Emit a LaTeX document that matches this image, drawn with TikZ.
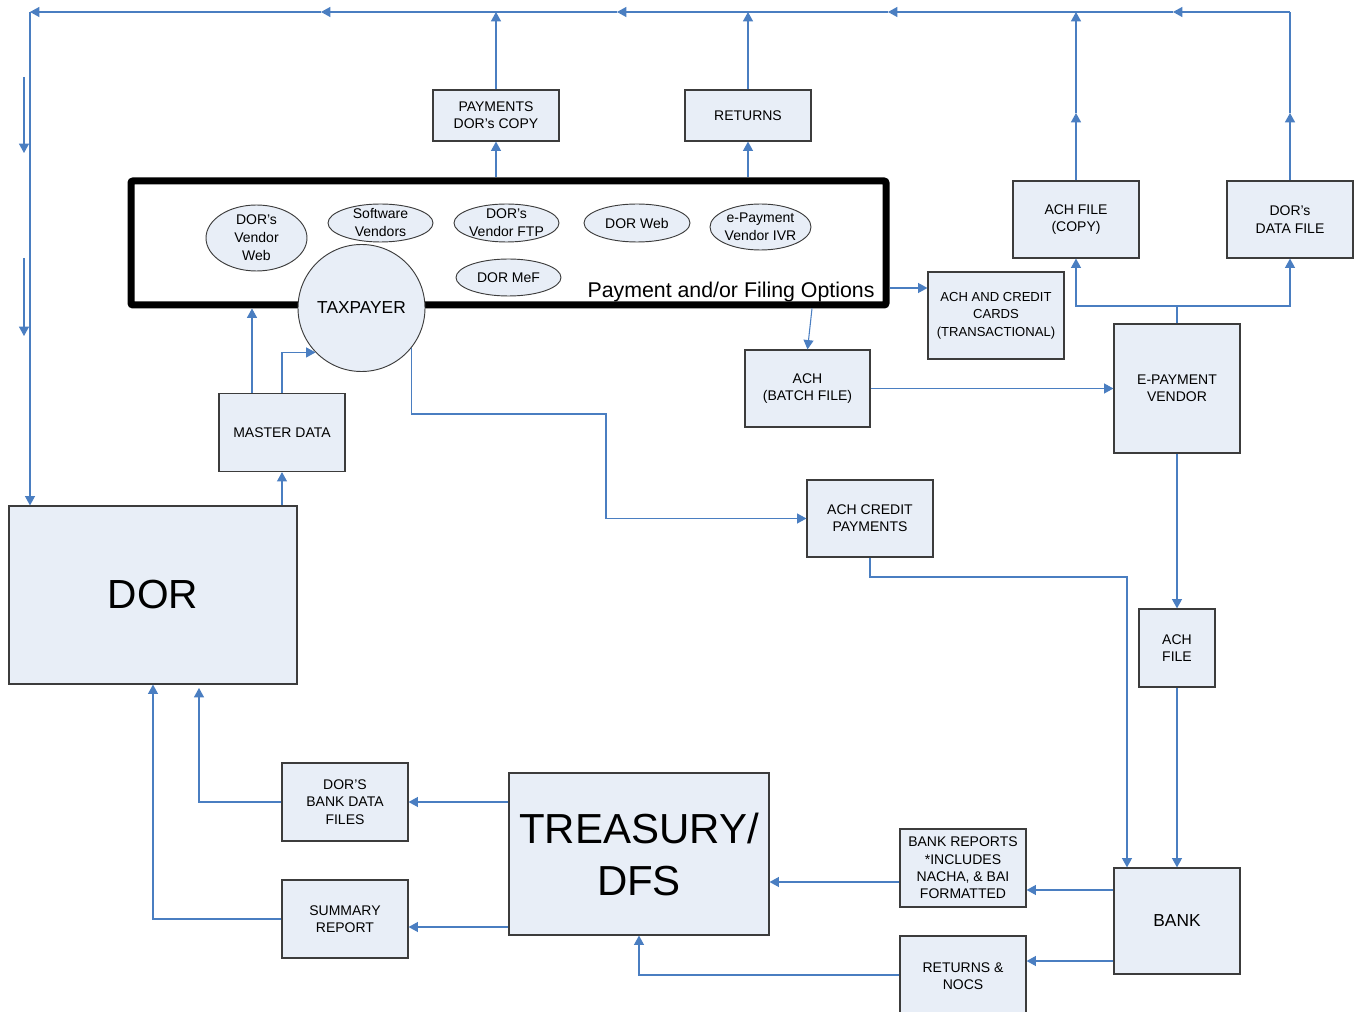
\documentclass[tikz,border=0pt]{standalone}
\usepackage{fontspec}
\setmainfont{Liberation Sans}
\usetikzlibrary{shapes.geometric,arrows.meta}
\definecolor{boxfill}{RGB}{232,238,247}
\definecolor{flowblue}{RGB}{74,126,193}
\definecolor{boxline}{RGB}{60,60,60}

\begin{document}
\begin{tikzpicture}[x=0.75pt, y=-0.75pt,
  box/.style 2 args={draw=boxline, line width=0.9pt, fill=boxfill, minimum width=#1*0.75pt, minimum height=#2*0.75pt, inner sep=1pt, align=center, font=\fontsize{10.5}{13}\selectfont},
  oval/.style 2 args={ellipse, draw=boxline, line width=0.7pt, fill=boxfill, minimum width=#1*0.75pt, minimum height=#2*0.75pt, inner xsep=-3pt, inner ysep=-4pt, align=center, font=\fontsize{10.5}{13.5}\selectfont},
  flow/.style={draw=flowblue, line width=0.8pt, -{Triangle[length=7pt,width=7.5pt]}},
  wire/.style={draw=flowblue, line width=0.8pt}]
  \useasboundingbox (0,0) rectangle (1361,1012);

  \node[draw, line width=5.25pt, rounded corners=1.5pt, minimum width=755*0.75pt, minimum height=124*0.75pt] (opts) at (508.5,243) {};
  \node[font=\fontsize{16}{19}\selectfont] (optlabel) at (731,292) {Payment and/or Filing Options};

  \node[oval={101}{66}] (vweb) at (256.5,238) {DOR’s\\Vendor\\Web};
  \node[oval={105}{38}] (softv) at (380.5,223) {Software\\Vendors};
  \node[oval={105}{38}] (vftp) at (506.5,223) {DOR’s\\Vendor FTP};
  \node[oval={106}{38}] (dorweb) at (637,223) {DOR Web};
  \node[oval={101}{46}] (ivr) at (760.5,227) {e-Payment\\Vendor IVR};
  \node[oval={105}{37}] (mef) at (508.5,277.5) {DOR MeF};
  \node[circle, draw=boxline, line width=0.7pt, fill=boxfill, minimum size=127*0.75pt, inner sep=0pt, font=\fontsize{13}{16}\selectfont] (tax) at (361.5,308) {TAXPAYER};

  \node[box={126}{51}] (pay) at (496,115.5) {PAYMENTS\\DOR’s COPY};
  \node[box={126}{51}] (ret) at (748,115.5) {RETURNS};
  \node[box={126}{77}] (achcopy) at (1076,219.5) {ACH FILE\\(COPY)};
  \node[box={126}{77}] (dordata) at (1290,219.5) {DOR’s\\DATA FILE};
  \node[box={136}{87}, font=\fontsize{9.8}{13}\selectfont] (accards) at (996,315.5) {ACH AND CREDIT\\CARDS\\(TRANSACTIONAL)};
  \node[box={125}{77}] (achbatch) at (807.5,388.5) {ACH\\(BATCH FILE)};
  \node[box={126}{129}] (epay) at (1177,388.5) {E-PAYMENT\\VENDOR};
  \node[box={126}{78}] (master) at (282,432.5) {MASTER DATA};
  \node[box={288}{178}, font=\fontsize{30.5}{36}\selectfont] (dor) at (153,595) {DOR};
  \node[box={126}{77}] (achcredit) at (870,518.5) {ACH CREDIT\\PAYMENTS};
  \node[box={76}{78}] (achfile) at (1177,648) {ACH\\FILE};
  \node[box={126}{106}, font=\fontsize{13}{16}\selectfont] (bank) at (1177,921) {BANK};
  \node[box={126}{78}] (bankrep) at (963,868) {BANK REPORTS\\*INCLUDES\\NACHA, \& BAI\\FORMATTED};
  \node[box={126}{80}] (retnocs) at (963,976) {RETURNS \&\\NOCS};
  \node[box={260}{162}, font=\fontsize{31.5}{39}\selectfont] (treas) at (639,854) {TREASURY/\\DFS};
  \node[box={126}{78}] (bankdata) at (345,802) {DOR’S\\BANK DATA\\FILES};
  \node[box={126}{78}] (summary) at (345,919) {SUMMARY\\REPORT};

  \coordinate (tr) at (1290,12);
  \coordinate (a1) at (1173,12);
  \coordinate (a2) at (888,12);
  \coordinate (a3) at (617,12);
  \coordinate (a4) at (321,12);
  \coordinate (tl) at (30,12);
  \coordinate (up) at (0,113);
  \coordinate (s1) at (24,77);
  \coordinate (s2) at (24,153);
  \coordinate (s3) at (24,258);
  \coordinate (s4) at (24,336);
  \coordinate (k1) at (606,414);
  \coordinate (k2) at (1127,577);
  \coordinate (k3) at (199,688);
  \coordinate (k4) at (1177,306);

  \foreach \a/\b in {tr/a1, a1/a2, a2/a3, a3/a4, a4/tl}
    \draw[flow] (\a) -- (\b);
  \draw[flow] (tl) -- (dor.north -| tl);
  \draw[flow] (s1) -- (s2);
  \draw[flow] (s3) -- (s4);

  \draw[flow] (opts.north -| pay) -- (pay.south);
  \draw[flow] (pay.north) -- (pay.north |- tr);
  \draw[flow] (opts.north -| ret) -- (ret.south);
  \draw[flow] (ret.north) -- (ret.north |- tr);
  \draw[flow] (achcopy.north) -- (achcopy |- up);
  \draw[flow] (achcopy |- up) -- (achcopy |- tr);
  \draw[flow] (dordata.north) -- (dordata |- up);
  \draw[wire] (dordata |- up) -- (tr);

  \draw[flow] (opts.east |- 0,288) -- (accards.west |- 0,288);
  \draw[flow] (opts.south -| 812,0) -- (achbatch.north);
  \draw[flow] (achbatch.east) -- (epay.west);
  \draw[wire] (epay.north) -- (k4);
  \draw[flow] (k4) -| (achcopy.south);
  \draw[flow] (k4) -| (dordata.south);

  \draw[flow] (master.north -| 252,0) -- (opts.south -| 252,0);
  \draw[flow] (master.north) |- (tax.224);
  \draw[flow] (dor.north -| master) -- (master.south);

  \draw[flow] (tax.-39) |- (k1) |- (achcredit.west);
  \draw[flow] (achcredit.south) |- (k2) -- (bank.north -| k2);
  \draw[flow] (epay.south) -- (achfile.north);
  \draw[flow] (achfile.south) -- (bank.north);

  \draw[flow] (bank.west |- 0,890) -- (bankrep.east |- 0,890);
  \draw[flow] (bankrep.west |- 0,882) -- (treas.east |- 0,882);
  \draw[flow] (bank.west |- 0,961) -- (retnocs.east |- 0,961);
  \draw[flow] (retnocs.west |- 0,975) -| (treas.south);
  \draw[flow] (treas.west |- bankdata) -- (bankdata.east);
  \draw[flow] (treas.west |- 0,927) -- (summary.east |- 0,927);
  \draw[flow] (bankdata.west) -| (k3);
  \draw[flow] (summary.west) -| (dor.south);
\end{tikzpicture}
\end{document}
